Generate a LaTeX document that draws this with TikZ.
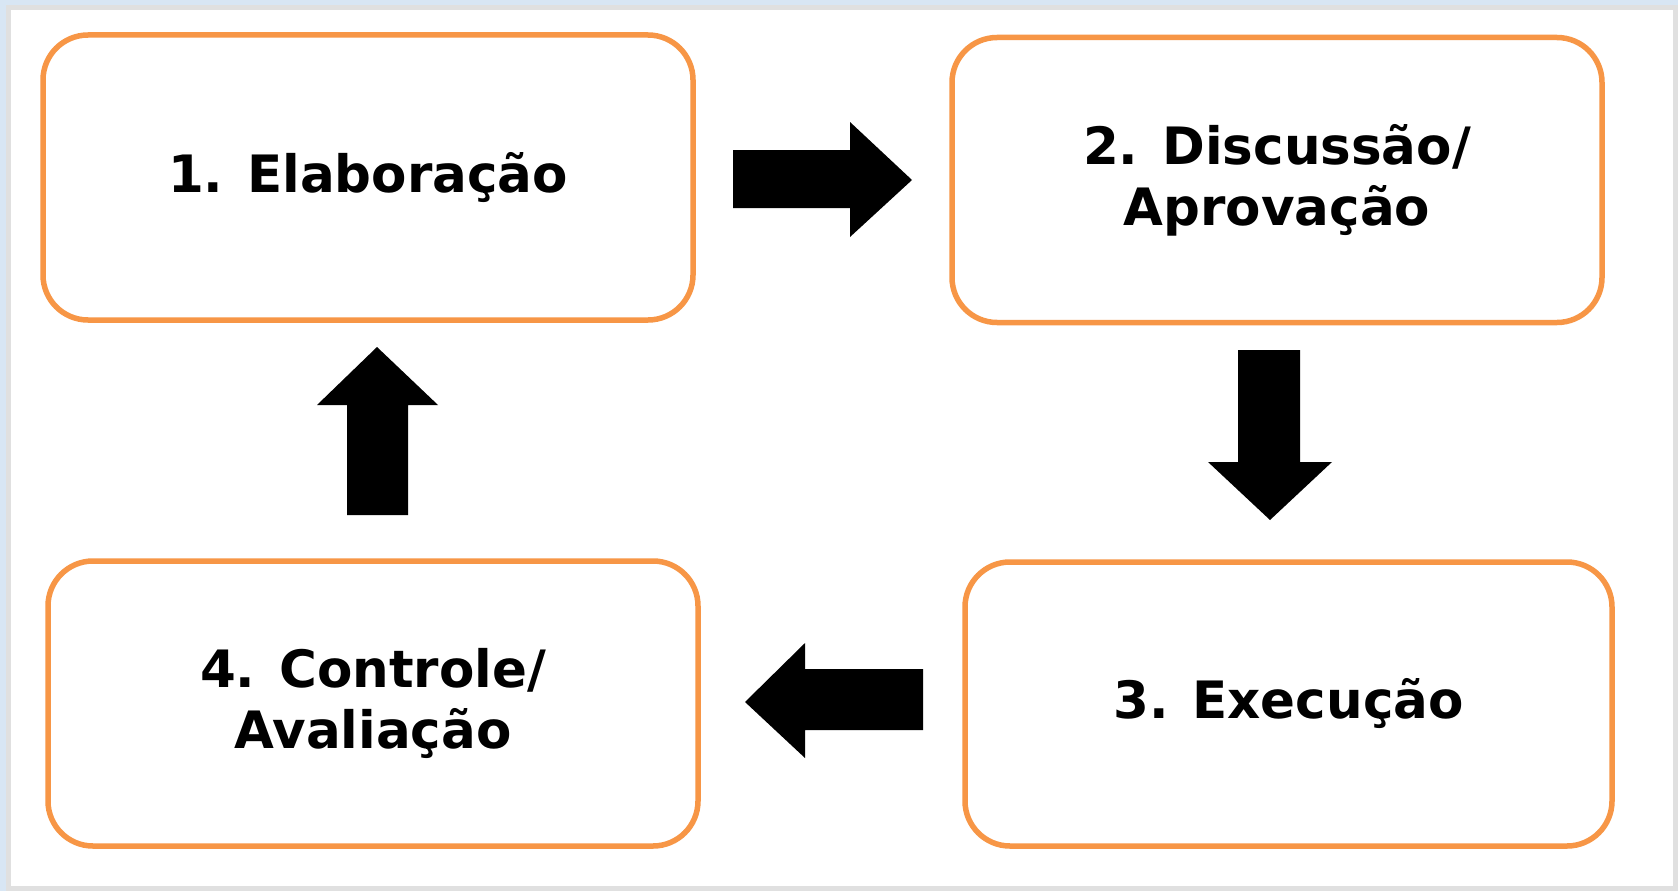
\documentclass[tikz,border=0pt]{standalone}
\usepackage{fontspec}
\setmainfont{DejaVu Sans}
\definecolor{boxorange}{HTML}{F79646}
\definecolor{bgblue}{HTML}{D8E6F4}
\definecolor{framegray}{HTML}{E0E0E0}
\begin{document}
\begin{tikzpicture}[x=1pt,y=-1pt,
  stagebox/.style={draw=boxorange, line width=5.5pt, rounded corners=45pt, fill=white,
    align=center, inner sep=0pt,
    font=\bfseries\fontsize{51.5}{61}\selectfont},
  blockarrow/.style={fill=black, draw=none}]
\useasboundingbox (0,0) rectangle (1678,891);
\fill[bgblue] (0,0) rectangle (1678,891);
\fill[framegray] (6,5) rectangle (1678,891);
\fill[white] (11,10) rectangle (1673,886);
% boxes
\node[stagebox, minimum width=650pt, minimum height=285pt] (b1) at (368,177.5) {1. Elaboração};
\node[stagebox, minimum width=650pt, minimum height=285pt] (b2) at (1277,180) {2. Discussão/\\Aprovação};
\node[stagebox, minimum width=647pt, minimum height=284pt] (b3) at (1288.5,704) {3. Execução};
\node[stagebox, minimum width=650pt, minimum height=285pt] (b4) at (373,703.5) {4. Controle/\\Avaliação};
% block arrows
\fill[blockarrow] (733,150)--(850,150)--(850,122)--(912,180)--(850,237)--(850,208)--(733,208)--cycle;
\fill[blockarrow] (1238,350)--(1300,350)--(1300,462)--(1332,462)--(1270,520)--(1208,462)--(1238,462)--cycle;
\fill[blockarrow] (923,669)--(805,669)--(805,643)--(745,702)--(805,758)--(805,730)--(923,730)--cycle;
\fill[blockarrow] (347,515)--(347,405)--(317,405)--(377,347)--(438,405)--(408,405)--(408,515)--cycle;
\end{tikzpicture}
\end{document}
